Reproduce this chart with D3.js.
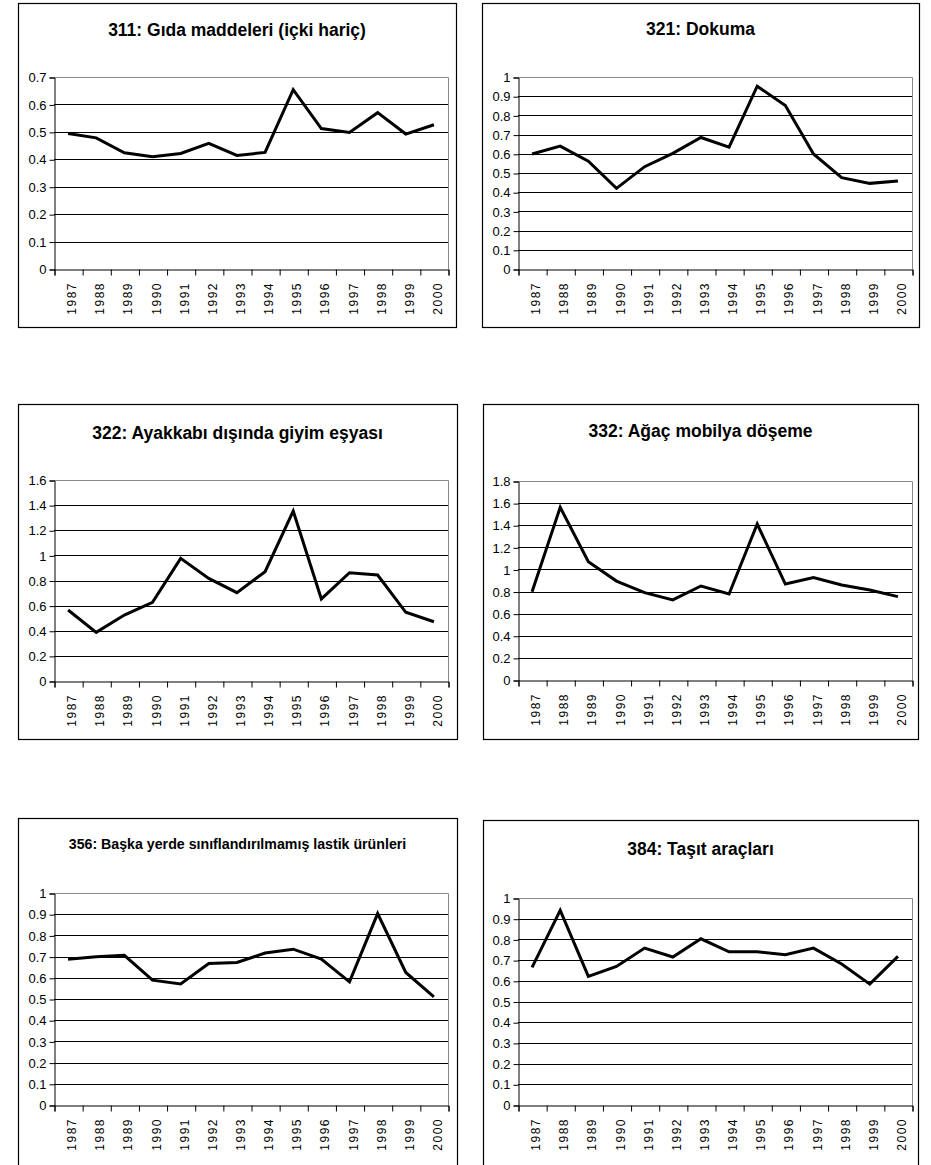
<!DOCTYPE html>
<html lang="tr">
<head>
<meta charset="UTF-8">
<title>Sektörler</title>
<script src="https://d3js.org/d3.v7.min.js"></script>
<style>
    body { margin: 0; background: #fff; }
    .title { font-family: "Liberation Sans Narrow", "Arial Narrow", "Liberation Sans", sans-serif; font-weight: bold; fill: #000; }
    .tick text { font-family: "Liberation Sans", Arial, sans-serif; fill: #000; }
</style>
</head>
<body>
<svg width="931" height="1165"></svg>
<script>
// yıllar ve grafik başlıkları
const years = [1987, 1988, 1989, 1990, 1991, 1992, 1993, 1994, 1995, 1996, 1997, 1998, 1999, 2000];
const titles = [
    "311: Gıda maddeleri (içki hariç)",
    "321: Dokuma",
    "322: Ayakkabı dışında giyim eşyası",
    "332: Ağaç mobilya döşeme",
    "356: Başka yerde sınıflandırılmamış lastik ürünleri",
    "384: Taşıt araçları"
];

// seriler
const v311 = [0.494, 0.478, 0.424, 0.409, 0.421, 0.458, 0.414, 0.425, 0.654, 0.512, 0.498, 0.570, 0.492, 0.526];
const v321 = [0.599, 0.640, 0.561, 0.420, 0.533, 0.602, 0.685, 0.635, 0.952, 0.851, 0.599, 0.476, 0.446, 0.458];
const v322 = [0.565, 0.387, 0.525, 0.626, 0.976, 0.817, 0.703, 0.870, 1.353, 0.653, 0.862, 0.844, 0.547, 0.472];
const v332 = [0.799, 1.562, 1.070, 0.895, 0.790, 0.724, 0.850, 0.778, 1.411, 0.868, 0.926, 0.859, 0.814, 0.754];
const v356 = [0.688, 0.699, 0.706, 0.589, 0.571, 0.667, 0.672, 0.717, 0.735, 0.688, 0.581, 0.903, 0.625, 0.510];
const v384 = [0.665, 0.940, 0.621, 0.669, 0.758, 0.715, 0.803, 0.740, 0.740, 0.726, 0.758, 0.681, 0.584, 0.718];

const series = [v311, v321, v322, v332, v356, v384];
const yMax = [0.7, 1, 1.6, 1.8, 1, 1];
const yStep = [0.1, 0.1, 0.2, 0.2, 0.1, 0.1];

// yerleşim: çerçeve [x0,y0,x1,y1], çizim alanı [x0,y0,x1,y1]
const layout = [
    { frame: [18, 3, 456, 327],    plot: [54, 77, 448, 269],    titleY: 36,  titleSize: 17.5 },
    { frame: [482, 3, 919, 327],   plot: [518, 77, 912, 269],   titleY: 35,  titleSize: 17.5 },
    { frame: [18, 404, 457, 739],  plot: [54, 480, 448, 681],   titleY: 439, titleSize: 17.5 },
    { frame: [483, 404, 918, 739], plot: [518, 481, 912, 680],  titleY: 437, titleSize: 17.5 },
    { frame: [18, 818, 457, 1180], plot: [54, 893, 448, 1105],  titleY: 849, titleSize: 14.2 },
    { frame: [483, 820, 918, 1180],plot: [518, 898, 912, 1105], titleY: 855, titleSize: 17.5 }
];

const svg = d3.select("svg");

series.forEach((vals, i) => {
    const L = layout[i];
    const [fx0, fy0, fx1, fy1] = L.frame;
    const [px0, py0, px1, py1] = L.plot;
    const w = px1 - px0, h = py1 - py0;

    const g = svg.append("g");

    g.append("rect")
        .attr("x", fx0 + 0.5).attr("y", fy0 + 0.5)
        .attr("width", fx1 - fx0).attr("height", fy1 - fy0)
        .attr("fill", "#fff").attr("stroke", "#000").attr("stroke-width", 1.2);

    g.append("text")
        .attr("class", "title")
        .attr("x", (fx0 + fx1) / 2).attr("y", L.titleY)
        .attr("text-anchor", "middle")
        .style("font-size", L.titleSize + "px")
        .text(titles[i]);

    const plot = g.append("g").attr("transform", `translate(${px0},${py0})`);

    const x = d3.scaleBand().domain(years).range([0, w]);
    const xb = d3.scaleLinear().domain([0, years.length]).range([0, w]);
    const y = d3.scaleLinear().domain([0, yMax[i]]).range([h, 0]);
    const ticks = d3.range(0, yMax[i] + yStep[i] / 2, yStep[i]).map(d => +d.toFixed(1));

    // yatay kılavuz çizgileri
    plot.selectAll(".grid")
        .data(ticks.slice(1, -1))
        .enter().append("line")
        .attr("x1", 0).attr("x2", w)
        .attr("y1", d => Math.round(y(d)) + 0.5).attr("y2", d => Math.round(y(d)) + 0.5)
        .attr("stroke", "#000").attr("stroke-width", 1);

    // çizim alanı kenarı (gri)
    plot.append("path")
        .attr("d", `M0.5,${y(yMax[i]) + 0.5}H${w + 0.5}V${h}`)
        .attr("fill", "none").attr("stroke", "#888").attr("stroke-width", 1);

    // y ekseni
    const ya = plot.append("g")
        .attr("transform", "translate(0.5,0.5)")
        .call(d3.axisLeft(y).tickValues(ticks).tickSize(5).tickPadding(3).tickFormat(d => String(d)));
    ya.select(".domain").attr("stroke", "#000");
    ya.selectAll(".tick line").attr("stroke", "#000");
    ya.selectAll(".tick text").style("font-size", "13px");

    // x ekseni: kategori sınırlarında işaretler
    const xa = plot.append("g")
        .attr("transform", `translate(0.5,${h + 0.5})`)
        .call(d3.axisBottom(xb).ticks(years.length).tickSize(6).tickFormat(""));
    xa.select(".domain").attr("stroke", "#000");
    xa.selectAll(".tick line").attr("stroke", "#000");

    // dikey yıl etiketleri
    plot.selectAll(".yr")
        .data(years)
        .enter().append("text")
        .attr("class", "yr")
        .attr("transform", d => `translate(${x(d) + x.bandwidth() / 2 + 8},${h + 13}) rotate(-90)`)
        .attr("text-anchor", "end")
        .style("font-family", "'Liberation Sans', Arial, sans-serif")
        .style("font-size", "12px")
        .style("letter-spacing", "1.5px")
        .text(d => d);

    // seri çizgisi
    const line = d3.line()
        .x((d, k) => x(years[k]) + x.bandwidth() / 2)
        .y(d => y(d));

    plot.append("path")
        .datum(vals)
        .attr("d", line)
        .attr("fill", "none")
        .attr("stroke", "#000")
        .attr("stroke-width", 3)
        .attr("stroke-linejoin", "miter");
});
</script>
</body>
</html>
